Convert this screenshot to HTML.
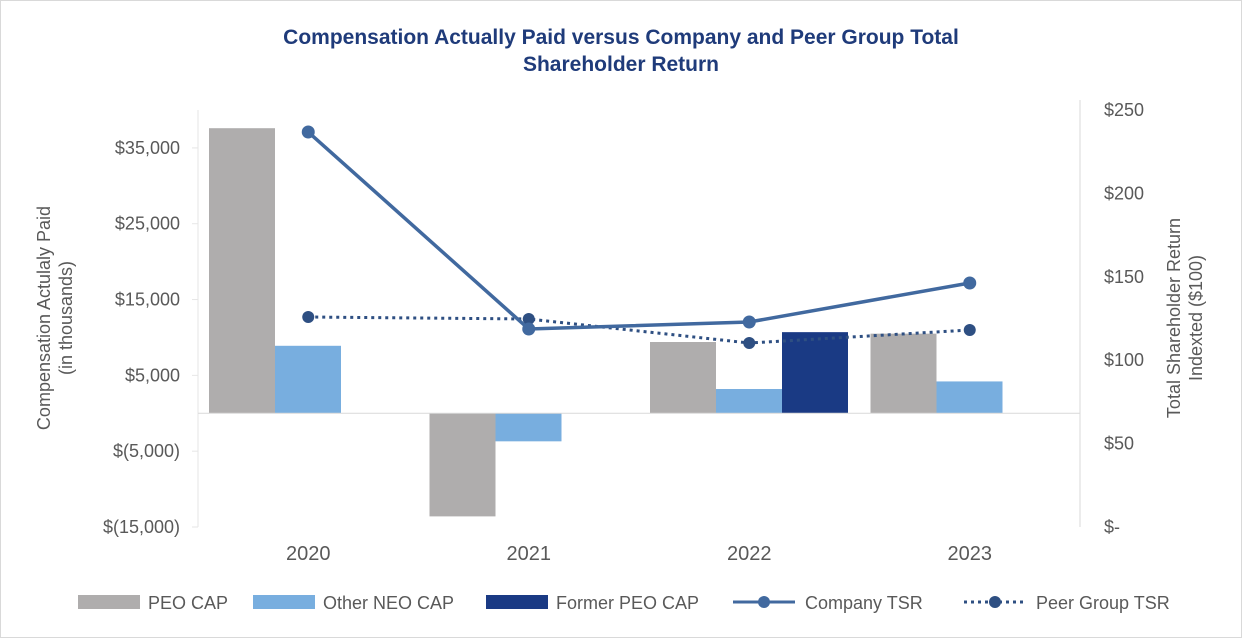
<!DOCTYPE html>
<html><head><meta charset="utf-8"><style>
body{margin:0;background:#fff;}
svg{display:block;font-family:"Liberation Sans",Arial,sans-serif;}
</style></head><body>
<svg id="chart" width="1242" height="638" viewBox="0 0 1242 638">
<rect x="0.5" y="0.5" width="1241" height="637" fill="#fff" stroke="#d9d9d9"/>
<text x="621" y="44" text-anchor="middle" font-size="21" font-weight="bold" fill="#1f3b7a">Compensation Actually Paid versus Company and Peer Group Total</text>
<text x="621" y="71" text-anchor="middle" font-size="21" font-weight="bold" fill="#1f3b7a">Shareholder Return</text>
<g id="plot"></g>
<text transform="translate(50,318) rotate(-90)" text-anchor="middle" font-size="18" fill="#595959"><tspan x="0" y="0">Compensation Actulaly Paid</tspan><tspan x="0" y="22">(in thousands)</tspan></text>
<text transform="translate(1180,318) rotate(-90)" text-anchor="middle" font-size="18" fill="#595959"><tspan x="0" y="0">Total Shareholder Return</tspan><tspan x="0" y="22">Indexted ($100)</tspan></text>
<g font-size="18" fill="#595959">
<rect x="78" y="595" width="62" height="14" fill="#afadad"/>
<text x="148" y="609">PEO CAP</text>
<rect x="253" y="595" width="62" height="14" fill="#78aedf"/>
<text x="323" y="609">Other NEO CAP</text>
<rect x="486" y="595" width="62" height="14" fill="#1a3a84"/>
<text x="556" y="609">Former PEO CAP</text>
<line x1="733" y1="602" x2="795" y2="602" stroke="#41699f" stroke-width="3"/>
<circle cx="764" cy="602" r="6" fill="#41699f"/>
<text x="805" y="609">Company TSR</text>
<line x1="964" y1="602" x2="1026" y2="602" stroke="#2e4f82" stroke-width="3" stroke-dasharray="3,4"/>
<circle cx="995" cy="602" r="6" fill="#2e4f82"/>
<text x="1036" y="609">Peer Group TSR</text>
</g>
</svg>
<script>
const years=["2020","2021","2022","2023"];
const peoCap=[37600,-13600,9400,10500];
const neoCap=[8900,-3700,3200,4200];
const formerCap=[0,0,10700,0];
const companyTsr=[236.8,118.7,122.9,146.3];
const peerTsr=[125.9,124.7,110.3,118.1];
const leftTicks=[35000,25000,15000,5000,-5000,-15000];
const leftTickLabels=["$35,000","$25,000","$15,000","$5,000","$(5,000)","$(15,000)"];
const rightTicks=[250,200,150,100,50,0];
const rightTickLabels=["$250","$200","$150","$100","$50","$-"];

const NS="http://www.w3.org/2000/svg";
const g=document.getElementById('plot');
const X0=198,X1=1080,YT=110,YB=527;
const yL=v=>YT+(40000-v)/55000*(YB-YT);
const yR=v=>YB-v/250*(YB-YT);
const cw=(X1-X0)/years.length;
const xc=i=>X0+cw*(i+0.5);
function mk(tag,attrs){const e=document.createElementNS(NS,tag);for(const k in attrs)e.setAttribute(k,attrs[k]);g.appendChild(e);return e;}
let e;
e=mk('line',{x1:X0,y1:YT,x2:X0,y2:YB,stroke:'#e6e6e6'});


e=mk('line',{x1:X1,y1:YT-10,x2:X1,y2:YB,stroke:'#d9d9d9'});


leftTicks.forEach((t,i)=>{
  e=mk('line',{x1:X0-6,y1:yL(t),x2:X0,y2:yL(t),stroke:'#e6e6e6'});
  
  
  e=mk('text',{x:180,y:yL(t)+6,'text-anchor':'end','font-size':18,fill:'#595959'});
  e.textContent=leftTickLabels[i];
  
  
});
rightTicks.forEach((t,i)=>{
  e=mk('text',{x:1104,y:yR(t)+6,'font-size':18,fill:'#595959'});
  e.textContent=rightTickLabels[i];
  
  
});
const bw=66;
function bar(i,k,v,col,name){
  const x=X0+cw*i+11+k*bw;
  const y0=yL(0),y1=yL(v);
  e=mk('rect',{x:x,y:Math.min(y0,y1),width:bw,height:Math.abs(y1-y0),fill:col});
  
  
}
years.forEach((yr,i)=>{
  bar(i,0,peoCap[i],'#afadad','bar-peo-'+yr);
  bar(i,1,neoCap[i],'#78aedf','bar-neo-'+yr);
  bar(i,2,formerCap[i],'#1a3a84','bar-former-'+yr);
  e=mk('text',{x:xc(i),y:560,'text-anchor':'middle','font-size':20,fill:'#595959'});
  e.textContent=yr;
  
  
});
e=mk('line',{x1:X0,y1:yL(0),x2:X1,y2:yL(0),stroke:'#d9d9d9'});


e=mk('polyline',{points:peerTsr.map((v,i)=>xc(i)+','+yR(v)).join(' '),fill:'none',stroke:'#2e4f82','stroke-width':3,'stroke-dasharray':'3,4'});


peerTsr.forEach((v,i)=>{
  e=mk('circle',{cx:xc(i),cy:yR(v),r:6,fill:'#2e4f82'});
  
  
});
e=mk('polyline',{points:companyTsr.map((v,i)=>xc(i)+','+yR(v)).join(' '),fill:'none',stroke:'#41699f','stroke-width':3.5});


companyTsr.forEach((v,i)=>{
  e=mk('circle',{cx:xc(i),cy:yR(v),r:6.5,fill:'#41699f'});
  
  
});
</script>
</body></html>
